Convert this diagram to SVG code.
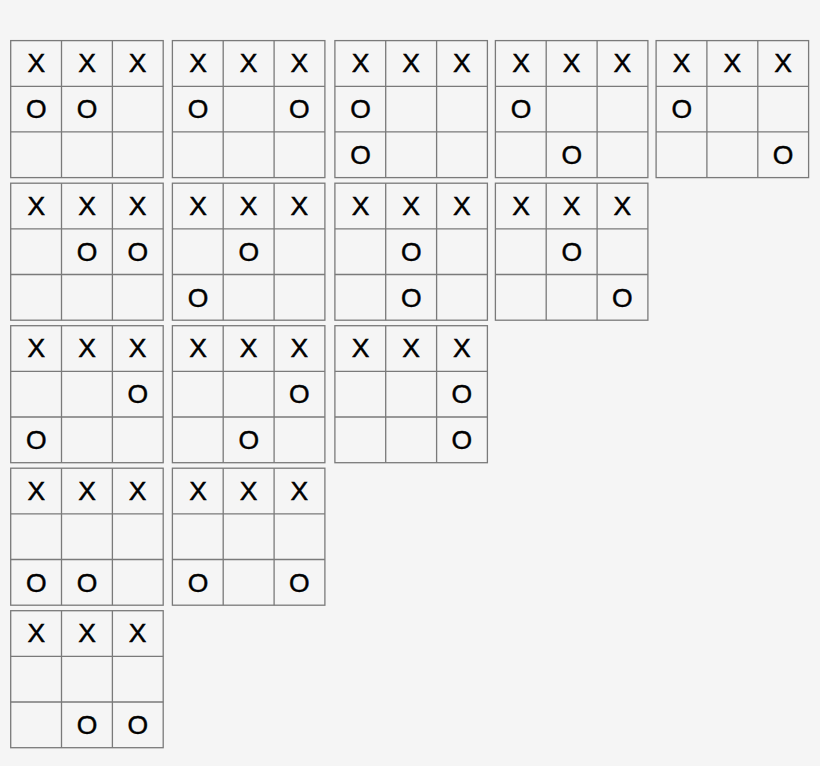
<svg xmlns="http://www.w3.org/2000/svg" xmlns:xlink="http://www.w3.org/1999/xlink" width="820" height="766" viewBox="0 0 820 766">
<style>
.g{fill:none;stroke:#7a7a7a;stroke-width:1.3}
text{font-family:"Liberation Sans",Arial,sans-serif;font-size:26.5px;fill:#000;stroke:#000;stroke-width:0.45;text-anchor:middle}
</style>
<defs>
<g id="grid">
<rect class="g" x="0" y="0" width="152.5" height="137"/>
<path class="g" d="M50.8 0V137M101.7 0V137M0 45.7H152.5M0 91.3H152.5"/>
<text x="25.6" y="31.7">X</text><text x="76.3" y="31.7">X</text><text x="127" y="31.7">X</text>
</g>
</defs>
<rect width="820" height="766" fill="#f5f5f5"/>
<g id="b00" transform="translate(10.7,40.6)"><use xlink:href="#grid"/><text x="25.6" y="77.6">O</text><text x="76.3" y="77.6">O</text></g>
<g id="b01" transform="translate(172.4,40.6)"><use xlink:href="#grid"/><text x="25.6" y="77.6">O</text><text x="127" y="77.6">O</text></g>
<g id="b02" transform="translate(334.9,40.6)"><use xlink:href="#grid"/><text x="25.6" y="77.6">O</text><text x="25.6" y="123.8">O</text></g>
<g id="b03" transform="translate(495.4,40.6)"><use xlink:href="#grid"/><text x="25.6" y="77.6">O</text><text x="76.3" y="123.8">O</text></g>
<g id="b04" transform="translate(656.1,40.6)"><use xlink:href="#grid"/><text x="25.6" y="77.6">O</text><text x="127" y="123.8">O</text></g>
<g id="b10" transform="translate(10.7,183.2)"><use xlink:href="#grid"/><text x="76.3" y="77.6">O</text><text x="127" y="77.6">O</text></g>
<g id="b11" transform="translate(172.4,183.2)"><use xlink:href="#grid"/><text x="76.3" y="77.6">O</text><text x="25.6" y="123.8">O</text></g>
<g id="b12" transform="translate(334.9,183.2)"><use xlink:href="#grid"/><text x="76.3" y="77.6">O</text><text x="76.3" y="123.8">O</text></g>
<g id="b13" transform="translate(495.4,183.2)"><use xlink:href="#grid"/><text x="76.3" y="77.6">O</text><text x="127" y="123.8">O</text></g>
<g id="b20" transform="translate(10.7,325.7)"><use xlink:href="#grid"/><text x="127" y="77.6">O</text><text x="25.6" y="123.8">O</text></g>
<g id="b21" transform="translate(172.4,325.7)"><use xlink:href="#grid"/><text x="127" y="77.6">O</text><text x="76.3" y="123.8">O</text></g>
<g id="b22" transform="translate(334.9,325.7)"><use xlink:href="#grid"/><text x="127" y="77.6">O</text><text x="127" y="123.8">O</text></g>
<g id="b30" transform="translate(10.7,468.2)"><use xlink:href="#grid"/><text x="25.6" y="123.8">O</text><text x="76.3" y="123.8">O</text></g>
<g id="b31" transform="translate(172.4,468.2)"><use xlink:href="#grid"/><text x="25.6" y="123.8">O</text><text x="127" y="123.8">O</text></g>
<g id="b40" transform="translate(10.7,610.7)"><use xlink:href="#grid"/><text x="76.3" y="123.8">O</text><text x="127" y="123.8">O</text></g>
<g id="connectors"/>
</svg>
